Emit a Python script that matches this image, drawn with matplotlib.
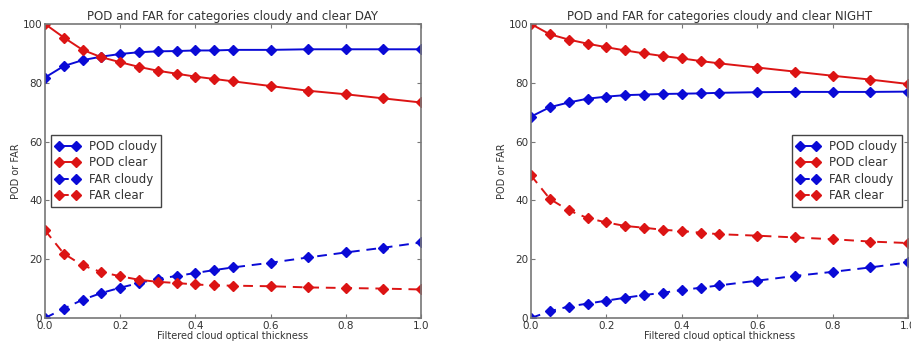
import matplotlib
matplotlib.use("Agg")
import matplotlib.pyplot as plt

thickness = [0.0, 0.05, 0.1, 0.15, 0.2, 0.25, 0.3, 0.35, 0.4, 0.45, 0.5, 0.6, 0.7, 0.8, 0.9, 1.0]

day_pod_cloudy = [81.8, 85.7, 87.7, 88.9, 89.8, 90.4, 90.7, 90.8, 91.0, 91.0, 91.2, 91.2, 91.4, 91.4, 91.4, 91.4]
day_pod_clear = [100.0, 95.4, 91.2, 88.7, 87.0, 85.4, 84.1, 83.1, 82.1, 81.3, 80.5, 78.9, 77.3, 76.1, 74.7, 73.3]
day_far_cloudy = [0.0, 3.2, 6.2, 8.5, 10.3, 11.9, 13.3, 14.3, 15.3, 16.3, 17.2, 18.8, 20.6, 22.3, 23.9, 25.7]
day_far_clear = [29.8, 21.9, 17.9, 15.6, 14.2, 13.0, 12.3, 11.9, 11.4, 11.1, 11.0, 10.8, 10.4, 10.2, 10.0, 9.7]

night_pod_cloudy = [68.5, 71.7, 73.3, 74.6, 75.3, 75.8, 76.0, 76.2, 76.3, 76.4, 76.6, 76.8, 76.9, 76.9, 76.9, 77.0]
night_pod_clear = [100.0, 96.5, 94.7, 93.3, 92.1, 91.0, 90.0, 89.1, 88.3, 87.4, 86.6, 85.2, 83.8, 82.4, 81.1, 79.6]
night_far_cloudy = [0.0, 2.3, 3.9, 4.9, 5.9, 6.9, 7.8, 8.6, 9.5, 10.3, 11.1, 12.7, 14.3, 15.7, 17.2, 18.9]
night_far_clear = [48.5, 40.5, 36.6, 34.0, 32.5, 31.3, 30.7, 30.0, 29.6, 29.0, 28.5, 28.0, 27.4, 26.8, 26.0, 25.5]

titles = ["POD and FAR for categories cloudy and clear DAY",
          "POD and FAR for categories cloudy and clear NIGHT"]
labels = ["POD cloudy", "POD clear", "FAR cloudy", "FAR clear"]
xlabel = "Filtered cloud optical thickness"
ylabel = "POD or FAR"

BLUE = "#0a0ad6"
RED = "#dc1414"
TXT = "#333333"

fig = plt.figure(figsize=(9.12, 3.43), dpi=100)
ax1 = fig.add_axes([45/912, 25/343, 376/912, 294/343])
ax2 = fig.add_axes([531/912, 25/343, 377/912, 294/343])

datasets = [
    (day_pod_cloudy, day_pod_clear, day_far_cloudy, day_far_clear),
    (night_pod_cloudy, night_pod_clear, night_far_cloudy, night_far_clear),
]
legend_locs = ["center left", "center right"]
styles = [(BLUE, "-"), (RED, "-"), (BLUE, "--"), (RED, "--")]

for ax, data, title, loc in zip([ax1, ax2], datasets, titles, legend_locs):
    for series, (c, ls), lab in zip(data, styles, labels):
        line, = ax.plot(thickness, series, color=c, linestyle=ls, marker="D",
                        markersize=4.6, markeredgecolor=c, linewidth=1.4,
                        label=lab)
        if ls == "--":
            line.set_dashes((5, 3.5))
    ax.set_xlim(0, 1.0)
    ax.set_ylim(0, 100)
    ax.set_xticks([0.0, 0.2, 0.4, 0.6, 0.8, 1.0])
    ax.set_yticks([0, 20, 40, 60, 80, 100])
    ax.tick_params(direction="in", top=True, right=True, labelsize=7.5,
                   colors="#777777", labelcolor=TXT, length=3, pad=2)
    for s in ax.spines.values():
        s.set_color("#777777")
        s.set_linewidth(1.2)
    ax.set_title(title, fontsize=8.5, color=TXT, pad=3)
    ax.set_xlabel(xlabel, fontsize=7, color=TXT, labelpad=0)
    ax.set_ylabel(ylabel, fontsize=7, color=TXT, labelpad=1)
    leg = ax.legend(loc=loc, numpoints=2, fontsize=8.5, fancybox=False,
                    framealpha=1, handlelength=2.0, borderaxespad=0.5,
                    labelspacing=0.3, handletextpad=0.8, borderpad=0.4)
    leg.get_frame().set_edgecolor("#444444")
    leg.get_frame().set_linewidth(1.0)
    for t in leg.get_texts():
        t.set_color(TXT)

fig.savefig("out.png", dpi=100)
